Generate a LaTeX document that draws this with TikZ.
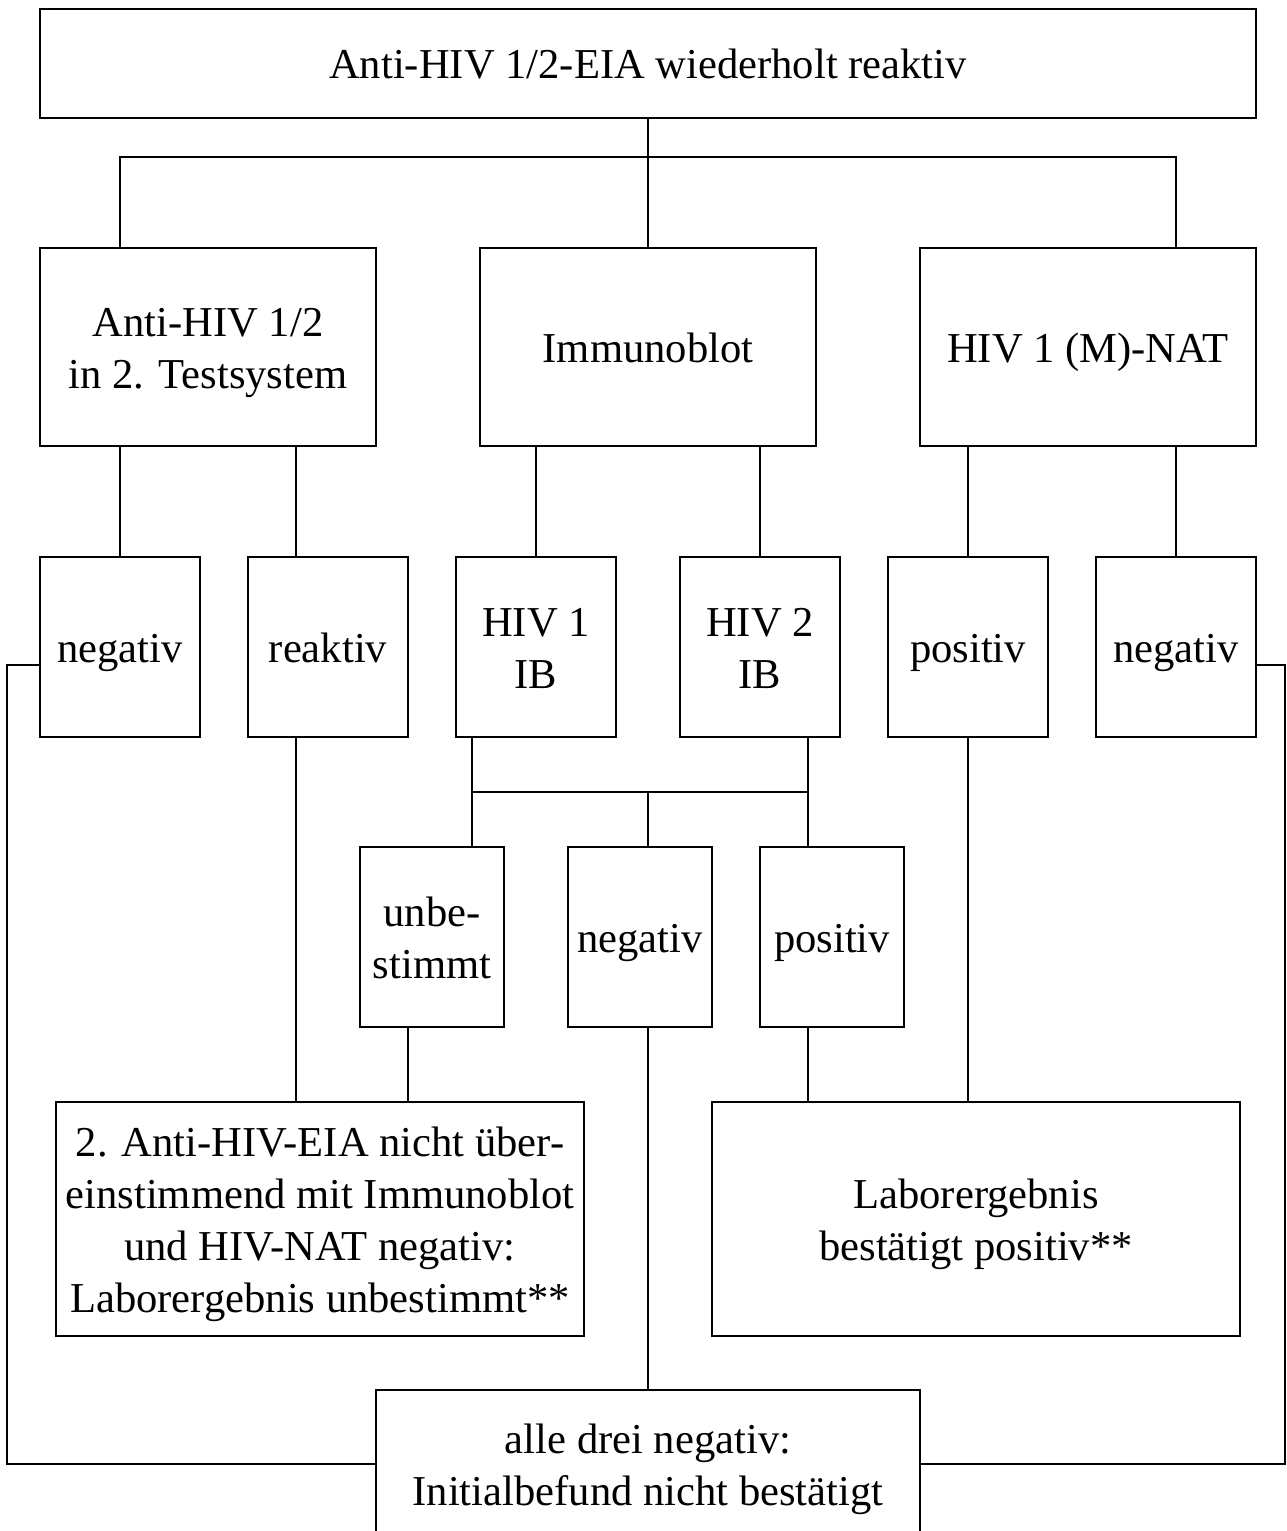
\documentclass[tikz,border=0pt]{standalone}
\usepackage{fontspec}
\setmainfont{Liberation Serif}
\usepackage{tikz}
\usetikzlibrary{positioning,calc}
\newcommand\topstrut{\rule{0pt}{40pt}}
\newcommand\botstrut{\rule[-10pt]{0pt}{10pt}}
\tikzset{
  box/.style={draw,line width=2pt,align=center,inner sep=0pt,font=\fontsize{42.6}{52}\selectfont,
    execute at begin node=\topstrut,execute at end node=\botstrut},
  test/.style={box,minimum width=336,minimum height=198},
  result/.style={box,minimum width=160,minimum height=180},
  blotres/.style={box,minimum width=144,minimum height=180},
  verdict/.style={box,minimum width=528,minimum height=234},
  link/.style={line width=2pt}
}
\begin{document}
\begin{tikzpicture}[x=1pt,y=-1pt]
  \useasboundingbox (0,0) rectangle (1286,1531);
  \clip (0,0) rectangle (1286,1531);
  \node[box,minimum width=1216,minimum height=109] (eia) at (648,63.5) {Anti-HIV 1/2-EIA wiederholt reaktiv};
  \node[test] (second) at (208,347) {\topstrut Anti-HIV 1/2\\in 2. Testsystem};
  \node[test] (blot) at (648,347) {Immunoblot};
  \node[test] (nat) at (1088,347) {HIV 1 (M)-NAT};
  \node[result] (sneg) at (120,647) {negativ};
  \node[result] (sreac) at (328,647) {reaktiv};
  \node[result] (hivone) at (536,647) {\topstrut HIV 1\\IB};
  \node[result] (hivtwo) at (760,647) {\topstrut HIV 2\\IB};
  \node[result] (npos) at (968,647) {positiv};
  \node[result] (nneg) at (1176,647) {negativ};
  \node[blotres] (ibunb) at (432,937) {\topstrut unbe-\\stimmt};
  \node[blotres] (ibneg) at (640,937) {negativ};
  \node[blotres] (ibpos) at (832,937) {positiv};
  \node[verdict] (unbest) at (320,1219) {\topstrut 2. Anti-HIV-EIA nicht über-\\einstimmend mit Immunoblot\\und HIV-NAT negativ:\\Laborergebnis unbestimmt**};
  \node[verdict] (posit) at (976,1219) {\topstrut Laborergebnis\\bestätigt positiv**};
  \node[box,minimum width=544,minimum height=148] (allneg) at (648,1464) {\topstrut alle drei negativ:\\Initialbefund nicht bestätigt};
  \coordinate (split) at (648,157);
  \coordinate (ibsplit) at (648,792);
  \draw[link] (eia) -- (blot);
  \draw[link] (second.north -| sneg) |- (split) -| (nat.north -| nneg);
  \draw[link] (second.south -| sneg) -- (sneg);
  \draw[link] ([xshift=-32]sreac.north |- second.south) -- ([xshift=-32]sreac.north);
  \draw[link] (blot.south -| hivone) -- (hivone);
  \draw[link] (blot.south -| hivtwo) -- (hivtwo);
  \draw[link] (nat.south -| npos) -- (npos);
  \draw[link] (nat.south -| nneg) -- (nneg);
  \draw[link] ([xshift=-64]hivone.south) -- ([xshift=-64]hivone.south |- ibunb.north);
  \draw[link] ([xshift=48]hivtwo.south) -- ([xshift=48]hivtwo.south |- ibpos.north);
  \draw[link] ([xshift=-64]hivone.south |- ibsplit) -- ([xshift=48]hivtwo.south |- ibsplit);
  \draw[link] (ibsplit) -- (ibsplit |- ibneg.north);
  \draw[link] ([xshift=-32]sreac.south) -- ([xshift=-32]sreac.south |- unbest.north);
  \draw[link] ([xshift=-24]ibunb.south) -- ([xshift=-24]ibunb.south |- unbest.north);
  \draw[link] (ibneg.south -| allneg) -- (allneg);
  \draw[link] ([xshift=-24]ibpos.south) -- ([xshift=-24]ibpos.south |- posit.north);
  \draw[link] (npos) -- (npos |- posit.north);
  \draw[link] ([yshift=-18]sneg.west) -| ([xshift=-368]allneg.west) -- (allneg.west);
  \draw[link] ([yshift=-18]nneg.east) -| ([xshift=364]allneg.east) -- (allneg.east);
\end{tikzpicture}
\end{document}
